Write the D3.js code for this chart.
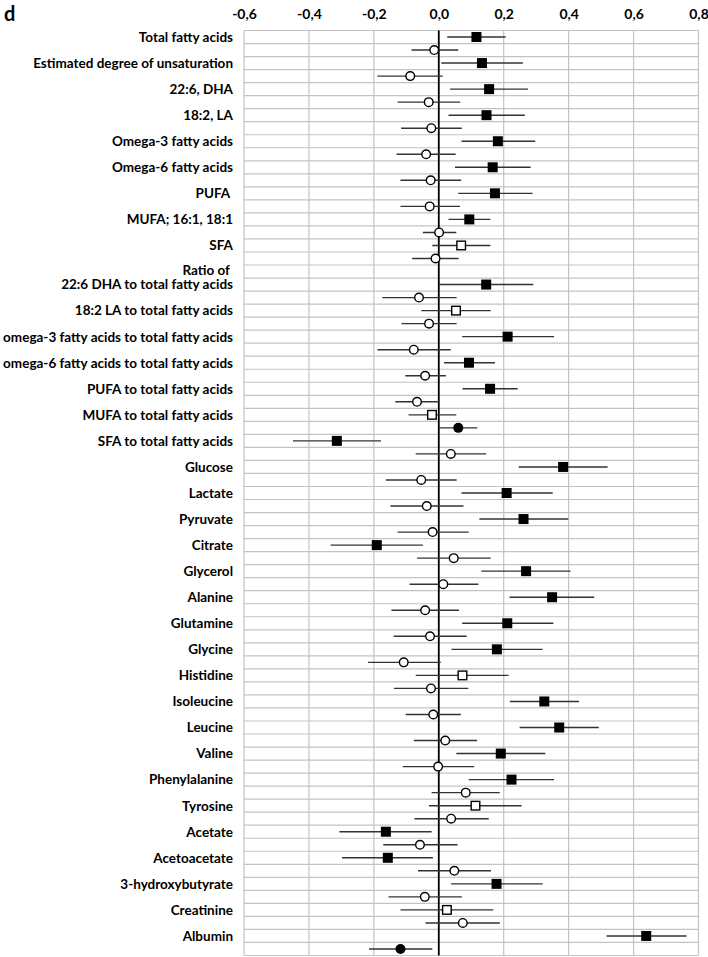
<!DOCTYPE html>
<html>
<head>
<meta charset="utf-8">
<script src="https://cdn.jsdelivr.net/npm/d3@7"></script>
<style>
body { margin: 0; background: #fff; }
</style>
</head>
<body>
<script>

// categories, top to bottom; the "Ratio of" header sits before category 9
var categories = ["Total fatty acids", "Estimated degree of unsaturation", "22:6, DHA", "18:2, LA",
  "Omega-3 fatty acids", "Omega-6 fatty acids", "PUFA ", "MUFA; 16:1, 18:1", "SFA",
  "22:6 DHA to total fatty acids", "18:2 LA to total fatty acids", "omega-3 fatty acids to total fatty acids",
  "omega-6 fatty acids to total fatty acids", "PUFA to total fatty acids", "MUFA to total fatty acids",
  "SFA to total fatty acids", "Glucose", "Lactate", "Pyruvate", "Citrate", "Glycerol", "Alanine",
  "Glutamine", "Glycine", "Histidine", "Isoleucine", "Leucine", "Valine", "Phenylalanine", "Tyrosine",
  "Acetate", "Acetoacetate", "3-hydroxybutyrate", "Creatinine", "Albumin"];
var headerLabel = "Ratio of ";
var headerBefore = 9;

// upper marker (square)
var sqEst = [0.116, 0.133, 0.155, 0.147, 0.182, 0.166, 0.173, 0.094, 0.069,
  0.146, 0.053, 0.212, 0.093, 0.158, -0.021, -0.314, 0.383, 0.209, 0.261, -0.191, 0.269, 0.349,
  0.211, 0.179, 0.073, 0.325, 0.371, 0.191, 0.224, 0.113, -0.163, -0.157, 0.178, 0.025, 0.639];
var sqLo = [0.026, 0.008, 0.035, 0.030, 0.070, 0.050, 0.060, 0.030, -0.020,
  0.001, -0.054, 0.072, 0.016, 0.073, -0.093, -0.449, 0.246, 0.070, 0.125, -0.333, 0.131, 0.218,
  0.072, 0.039, -0.071, 0.219, 0.249, 0.054, 0.092, -0.030, -0.306, -0.298, 0.038, -0.118, 0.517];
var sqHi = [0.206, 0.259, 0.275, 0.265, 0.297, 0.283, 0.289, 0.159, 0.159,
  0.291, 0.160, 0.355, 0.173, 0.243, 0.054, -0.178, 0.520, 0.351, 0.399, -0.049, 0.406, 0.479,
  0.353, 0.320, 0.215, 0.432, 0.493, 0.328, 0.355, 0.255, -0.022, -0.018, 0.320, 0.168, 0.763];
var sqFilled = [1, 1, 1, 1, 1, 1, 1, 1, 0,
  1, 0, 1, 1, 1, 0, 1, 1, 1, 1, 1, 1, 1,
  1, 1, 0, 1, 1, 1, 1, 0, 1, 1, 1, 0, 1];

// lower marker (circle)
var ciEst = [-0.014, -0.088, -0.031, -0.023, -0.039, -0.025, -0.028, 0.001, -0.010,
  -0.061, -0.030, -0.077, -0.042, -0.067, 0.060, 0.037, -0.054, -0.037, -0.019, 0.046, 0.014, -0.042,
  -0.027, -0.108, -0.024, -0.017, 0.020, -0.002, 0.083, 0.038, -0.058, 0.048, -0.043, 0.074, -0.118];
var ciLo = [-0.084, -0.189, -0.127, -0.116, -0.130, -0.118, -0.118, -0.049, -0.082,
  -0.174, -0.115, -0.189, -0.103, -0.134, 0.001, -0.071, -0.163, -0.149, -0.127, -0.067, -0.090, -0.146,
  -0.139, -0.218, -0.138, -0.102, -0.077, -0.111, -0.022, -0.075, -0.171, -0.064, -0.155, -0.041, -0.215];
var ciHi = [0.060, 0.012, 0.066, 0.071, 0.052, 0.069, 0.065, 0.054, 0.061,
  0.055, 0.055, 0.037, 0.022, 0.001, 0.119, 0.146, 0.055, 0.076, 0.092, 0.160, 0.122, 0.062,
  0.086, 0.006, 0.091, 0.068, 0.118, 0.109, 0.188, 0.154, 0.058, 0.161, 0.071, 0.188, -0.020];
var ciFilled = [0, 0, 0, 0, 0, 0, 0, 0, 0,
  0, 0, 0, 0, 0, 1, 0, 0, 0, 0, 0, 0, 0,
  0, 0, 0, 0, 0, 0, 0, 0, 0, 0, 0, 0, 1];

var xTicks = [-0.6, -0.4, -0.2, 0.0, 0.2, 0.4, 0.6, 0.8];

var width = 708, height = 957;
var plotLeft = 244, plotRight = 698.5, plotTop = 30.5, plotBottom = 955.5;
var labelRight = 233;
var fontStack = "Lato, 'Open Sans', sans-serif";

var nRows = categories.length * 2 + 1;

function rowOf(i) {
  return i < headerBefore ? 2 * i : 2 * i + 1;
}

var x = d3.scaleLinear().domain([-0.6, 0.8]).range([plotLeft, plotRight]);
var y = d3.scaleLinear().domain([0, nRows]).range([plotTop, plotBottom]);

var loc = d3.formatLocale({decimal: ",", thousands: ".", grouping: [3], currency: ["", ""], minus: "-"});
var fmt = loc.format(".1f");

var svg = d3.select("body").append("svg")
  .attr("width", width)
  .attr("height", height);

svg.append("rect").attr("width", width).attr("height", height).attr("fill", "white");

// grid
var grid = svg.append("g");
grid.selectAll("line.h")
  .data(d3.range(0, nRows + 1))
  .enter().append("line")
  .attr("x1", plotLeft).attr("x2", plotRight)
  .attr("y1", function(d) { return y(d); })
  .attr("y2", function(d) { return y(d); })
  .attr("stroke", "#c3c3c3")
  .attr("stroke-width", 1.2);

grid.selectAll("line.v")
  .data(xTicks)
  .enter().append("line")
  .attr("x1", function(d) { return x(d); })
  .attr("x2", function(d) { return x(d); })
  .attr("y1", plotTop).attr("y2", plotBottom)
  .attr("stroke", function(d) { return d === 0 ? "none" : "#c3c3c3"; })
  .attr("stroke-width", 1.2);

// zero line
svg.append("line")
  .attr("x1", x(0)).attr("x2", x(0))
  .attr("y1", plotTop).attr("y2", plotBottom)
  .attr("stroke", "black")
  .attr("stroke-width", 1.8);

// top axis labels
var axis = svg.append("g")
  .attr("transform", "translate(0,19)")
  .call(d3.axisTop(x).tickValues(xTicks).tickSize(0).tickPadding(0).tickFormat(fmt));
axis.select(".domain").remove();
axis.selectAll("text")
  .attr("font-family", fontStack)
  .attr("font-weight", "bold")
  .attr("font-size", "14px")
  .attr("fill", "black");

// category labels
var labelG = svg.append("g");
var labelData = categories.map(function(c, i) { return {text: c, row: rowOf(i), dy: 0}; });
labelData.push({text: headerLabel, row: rowOf(headerBefore) - 1, dy: -1});

var labels = labelG.selectAll("text")
  .data(labelData)
  .enter().append("text")
  .attr("x", 0)
  .attr("y", function(d) { return y(d.row + 0.5) + d.dy; })
  .attr("dy", "0.36em")
  .attr("text-anchor", "end")
  .style("white-space", "pre")
  .attr("font-family", fontStack)
  .attr("font-weight", "bold")
  .attr("font-size", "13.5px")
  .attr("fill", "black")
  .text(function(d) { return d.text; });

// fit the labels to the width of the original
var widest = d3.max(labels.nodes(), function(n) { return n.getComputedTextLength(); });
var k = 230 / widest;
labelG.attr("transform", "translate(" + labelRight + ",0) scale(" + k + ",1)");

// error bars and markers
var marks = svg.append("g");

function drawSeries(est, lo, hi, filled, offset, shape) {
  var data = est.map(function(v, i) {
    return {v: v, lo: lo[i], hi: hi[i], f: filled[i], yc: y(rowOf(i) + offset + 0.5)};
  });
  marks.selectAll(null)
    .data(data)
    .enter().append("line")
    .attr("x1", function(d) { return x(d.lo); })
    .attr("x2", function(d) { return x(d.hi); })
    .attr("y1", function(d) { return d.yc; })
    .attr("y2", function(d) { return d.yc; })
    .attr("stroke", "#333")
    .attr("stroke-width", 1.4);

  if (shape === "square") {
    marks.selectAll(null)
      .data(data)
      .enter().append("rect")
      .attr("x", function(d) { return x(d.v) - (d.f ? 5 : 4.3); })
      .attr("y", function(d) { return d.yc - (d.f ? 5 : 4.3); })
      .attr("width", function(d) { return d.f ? 10 : 8.6; })
      .attr("height", function(d) { return d.f ? 10 : 8.6; })
      .attr("fill", function(d) { return d.f ? "black" : "white"; })
      .attr("stroke", function(d) { return d.f ? "none" : "black"; })
      .attr("stroke-width", 1.4);
  } else {
    marks.selectAll(null)
      .data(data)
      .enter().append("circle")
      .attr("cx", function(d) { return x(d.v); })
      .attr("cy", function(d) { return d.yc; })
      .attr("r", function(d) { return d.f ? 5 : 4.3; })
      .attr("fill", function(d) { return d.f ? "black" : "white"; })
      .attr("stroke", function(d) { return d.f ? "none" : "black"; })
      .attr("stroke-width", 1.4);
  }
}

drawSeries(sqEst, sqLo, sqHi, sqFilled, 0, "square");
drawSeries(ciEst, ciLo, ciHi, ciFilled, 1, "circle");

// panel letter
svg.append("text")
  .attr("x", 4)
  .attr("y", 21)
  .attr("font-family", fontStack)
  .attr("font-weight", "bold")
  .attr("font-size", "20px")
  .attr("fill", "black")
  .text("d");

</script>
</body>
</html>
